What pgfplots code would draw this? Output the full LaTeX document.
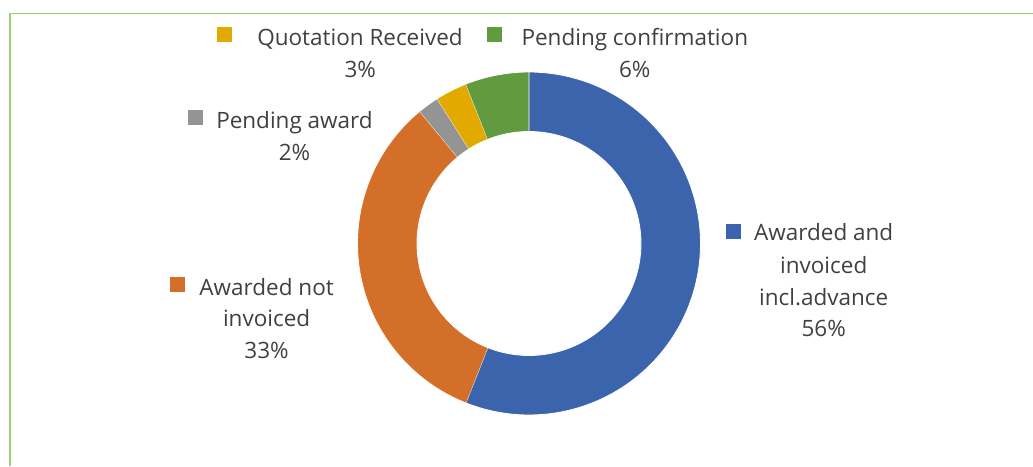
\documentclass[border=0pt]{standalone}
\usepackage{pgfplots}
\pgfplotsset{compat=1.18}
\usepackage{pgfplotstable}
\usepackage{fontspec}
\setmainfont{Open Sans}
\definecolor{cBlue}{HTML}{3B64AD}
\definecolor{cOrange}{HTML}{D46F2A}
\definecolor{cGray}{HTML}{949494}
\definecolor{cYellow}{HTML}{E2AA00}
\definecolor{cGreen}{HTML}{629B3F}
\definecolor{txt}{HTML}{404040}
\definecolor{frame}{HTML}{9CD36B}
% share of each category (percent), clockwise from 12 o'clock
\pgfplotstableread{
category value
AwardedInvoiced 56
AwardedNotInvoiced 33
PendingAward 2
QuotationReceived 3
PendingConfirmation 6
}\donutdata
\newcommand\fs{\fontsize{22.5}{32}\selectfont}
% #1 start angle, #2 end angle (degrees clockwise from top), #3 colour
\newcommand\slice[3]{%
  \addplot[fill=#3, draw=white, line width=0.8pt, domain=0:3, samples=301, variable=\u,
    declare function={sang(\u)=(\u<=1) ? (#1+(#2-#1)*\u) : ((\u<=2) ? (#2) : (#2-(#2-#1)*(\u-2)));
                      srad(\u)=(\u<=1) ? 171.5 : ((\u<=2) ? (171.5-(171.5-112)*(\u-1)) : 112);}]
  ({529+srad(\u)*sin(sang(\u))},{243.5-srad(\u)*cos(sang(\u))});}
\newcommand\lbl[3]{\node[anchor=base, text=txt, font=\fs, inner sep=0pt] at (axis cs:#1,#2) {#3};}
% legend key: #1 colour, #2 left x, #3 top y
\newcommand\key[3]{\fill[#1] (axis cs:#2,#3) rectangle (axis cs:#2+14.6,#3+14.6);}
\begin{document}
\begin{tikzpicture}
\pgfplotstablegetelem{0}{value}\of\donutdata \let\vA\pgfplotsretval
\pgfplotstablegetelem{1}{value}\of\donutdata \let\vB\pgfplotsretval
\pgfplotstablegetelem{2}{value}\of\donutdata \let\vC\pgfplotsretval
\pgfplotstablegetelem{3}{value}\of\donutdata \let\vD\pgfplotsretval
\pgfplotstablegetelem{4}{value}\of\donutdata \let\vE\pgfplotsretval
\pgfmathsetmacro\aA{0}
\pgfmathsetmacro\aB{\aA+3.6*\vA}
\pgfmathsetmacro\aC{\aB+3.6*\vB}
\pgfmathsetmacro\aD{\aC+3.6*\vC}
\pgfmathsetmacro\aE{\aD+3.6*\vD}
\pgfmathsetmacro\aF{\aE+3.6*\vE}
\begin{axis}[at={(0,0)}, anchor=south west, width=1033pt, height=466pt, scale only axis,
  xmin=0, xmax=1033, ymin=0, ymax=466, y dir=reverse, hide axis, clip=false]
\slice{\aA}{\aB}{cBlue}
\slice{\aB}{\aC}{cOrange}
\slice{\aC}{\aD}{cGray}
\slice{\aD}{\aE}{cYellow}
\slice{\aE}{\aF}{cGreen}
\draw[frame, line width=1.4pt] (axis cs:10,466) -- (axis cs:10,13.3) -- (axis cs:1033,13.3);
\key{cYellow}{217.3}{27.3}
\key{cGreen}{487.3}{27.3}
\key{cGray}{188.3}{110.3}
\key{cBlue}{726.3}{224.3}
\key{cOrange}{170.3}{277}
\lbl{360}{45.7}{Quotation Received}
\lbl{360.3}{77.3}{3\%}
\lbl{634.8}{45.7}{Pending confirmation}
\lbl{634.8}{77.3}{6\%}
\lbl{294.5}{128.5}{Pending award}
\lbl{294.5}{160}{2\%}
\lbl{823.7}{240.7}{Awarded and}
\lbl{823.7}{273.3}{invoiced}
\lbl{823.7}{305}{incl.advance}
\lbl{823.7}{336.7}{56\%}
\lbl{266.6}{295}{Awarded not}
\lbl{266.6}{326.7}{invoiced}
\lbl{266.6}{358.3}{33\%}
\end{axis}
\pgfresetboundingbox
\useasboundingbox (0,0) rectangle (1033pt,466pt);
\end{tikzpicture}
\end{document}
